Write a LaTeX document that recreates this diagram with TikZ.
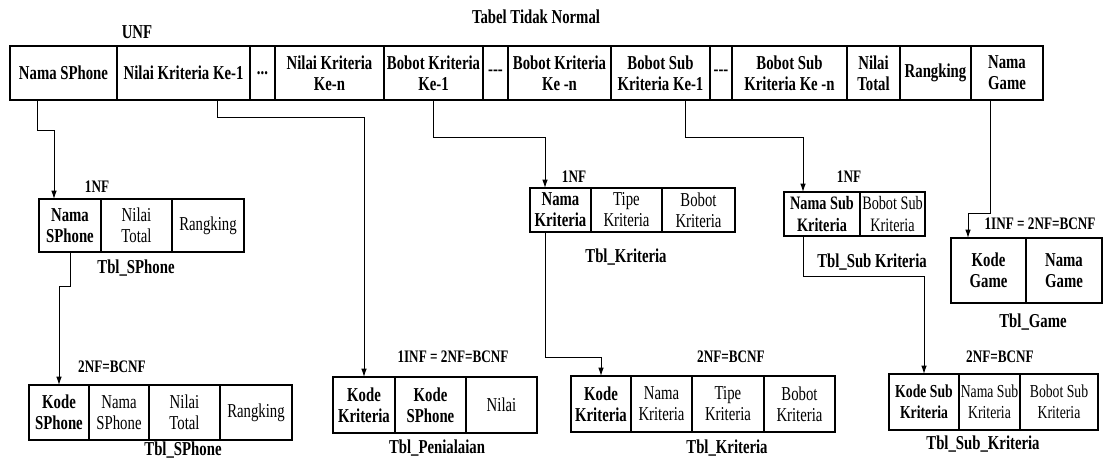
\documentclass[tikz,border=0pt]{standalone}
\usepackage{fontspec}
\setmainfont{Liberation Serif}[FakeStretch=0.75]
\usetikzlibrary{calc, arrows.meta}

\begin{document}
\begin{tikzpicture}[x=0.025cm, y=-0.025cm,
    cell/.style={draw, line width=0.8pt, outer sep=0pt, inner sep=0pt, align=center},
    link/.style={line width=0.7pt, -{Latex[length=6pt, width=4pt]}},
    nflabel/.style={font=\fontsize{12.5}{15}\selectfont\bfseries, inner sep=0pt},
    tbllabel/.style={font=\fontsize{14}{15}\selectfont\bfseries, inner sep=0pt}]
    % Define unit and cell font
    \def\pxu{0.025cm}
    \def\cellfont{\fontsize{14}{15}\selectfont}

    \useasboundingbox (0,0) rectangle (1108,458);

    % Title and unnormalised table
    \node[tbllabel] (title) at (536,17) {Tabel Tidak Normal};
    \node[tbllabel] (unf) at (137,32) {UNF};
    \foreach \nm/\xa/\xb/\txt in {hNama/10/117/{Nama SPhone}, hNilai1/117/250/{Nilai Kriteria Ke-1},
        hDotsA/250/275/{.{}.{}.}, hNilaiN/275/384/{Nilai Kriteria\\Ke-n}, hBobot1/384/483/{Bobot Kriteria\\Ke-1},
        hDotsB/483/508/{-{}-{}-}, hBobotN/508/611/{Bobot Kriteria\\Ke -n}, hSub1/611/710/{Bobot Sub\\Kriteria Ke-1},
        hDotsC/710/732/{-{}-{}-}, hSubN/732/847/{Bobot Sub\\Kriteria Ke -n}, hTotal/847/900/{Nilai\\Total},
        hRank/900/971/{Rangking}, hGame/971/1043/{Nama\\Game}}
        \node[cell, font=\cellfont\bfseries, minimum width={(\xb-\xa)*\pxu}, minimum height={54*\pxu}] (\nm) at ({(\xa+\xb)/2},73) {\txt};

    % 1NF Tbl_SPhone
    \node[nflabel] (nfA) at (97,187) {1NF};
    \foreach \nm/\xa/\xb/\fs/\txt in {phNama/39/101/\bfseries/{Nama\\SPhone}, phTotal/101/172/\mdseries/{Nilai\\Total},
        phRank/172/244/\mdseries/{Rangking}}
        \node[cell, font=\cellfont\fs, minimum width={(\xb-\xa)*\pxu}, minimum height={53*\pxu}] (\nm) at ({(\xa+\xb)/2},225.5) {\txt};
    \node[tbllabel] (tblA) at (136,268) {Tbl\_SPhone};

    % 2NF Tbl_SPhone
    \node[nflabel] (nfB) at (112,367) {2NF=BCNF};
    \foreach \nm/\xa/\xb/\fs/\txt in {phKode2/29/89/\bfseries/{Kode\\SPhone}, phNama2/89/149/\mdseries/{Nama\\SPhone},
        phTotal2/149/220/\mdseries/{Nilai\\Total}, phRank2/220/292/\mdseries/{Rangking}}
        \node[cell, font=\cellfont\fs, minimum width={(\xb-\xa)*\pxu}, minimum height={55*\pxu}] (\nm) at ({(\xa+\xb)/2},412.5) {\txt};
    \node[tbllabel] (tblB) at (183,450) {Tbl\_SPhone};

    % Tbl_Penialaian
    \node[nflabel] (nfC) at (453,357) {1INF = 2NF=BCNF};
    \foreach \nm/\xa/\xb/\fs/\txt in {pnKrit/333/395/\bfseries/{Kode\\Kriteria}, pnPhone/395/466/\bfseries/{Kode\\SPhone},
        pnNilai/466/537/\mdseries/{Nilai}}
        \node[cell, font=\cellfont\fs, minimum width={(\xb-\xa)*\pxu}, minimum height={56*\pxu}] (\nm) at ({(\xa+\xb)/2},405) {\txt};
    \node[tbllabel] (tblC) at (437,448) {Tbl\_Penialaian};

    % 1NF Tbl_Kriteria
    \node[nflabel] (nfD) at (574,177) {1NF};
    \foreach \nm/\xa/\xb/\fs/\txt in {krNama/530/591/\bfseries/{Nama\\Kriteria}, krTipe/591/662/\mdseries/{Tipe\\Kriteria},
        krBobot/662/735/\mdseries/{Bobot\\Kriteria}}
        \node[cell, font=\cellfont\fs, minimum width={(\xb-\xa)*\pxu}, minimum height={44*\pxu}] (\nm) at ({(\xa+\xb)/2},210) {\txt};
    \node[tbllabel] (tblD) at (626,257) {Tbl\_Kriteria};

    % 2NF Tbl_Kriteria
    \node[nflabel] (nfE) at (731,357) {2NF=BCNF};
    \foreach \nm/\xa/\xb/\fs/\txt in {krKode2/571/631/\bfseries/{Kode\\Kriteria}, krNama2/631/692/\mdseries/{Nama\\Kriteria},
        krTipe2/692/764/\mdseries/{Tipe\\Kriteria}, krBobot2/764/835/\mdseries/{Bobot\\Kriteria}}
        \node[cell, font=\cellfont\fs, minimum width={(\xb-\xa)*\pxu}, minimum height={56*\pxu}] (\nm) at ({(\xa+\xb)/2},404) {\txt};
    \node[tbllabel] (tblE) at (727,448) {Tbl\_Kriteria};

    % 1NF Tbl_Sub Kriteria
    \node[nflabel] (nfF) at (849,177) {1NF};
    \foreach \nm/\xa/\xb/\fs/\txt in {sbNama/784/860/\bfseries/{Nama Sub\\Kriteria}, sbBobot/860/925/\mdseries/{Bobot Sub\\Kriteria}}
        \node[cell, font=\fontsize{13.5}{15}\selectfont\fs, minimum width={(\xb-\xa)*\pxu}, minimum height={44*\pxu}] (\nm) at ({(\xa+\xb)/2},214) {\txt};
    \node[tbllabel] (tblF) at (872,262) {Tbl\_Sub Kriteria};

    % 2NF Tbl_Sub_Kriteria
    \node[nflabel] (nfG) at (1000,357) {2NF=BCNF};
    \foreach \nm/\xa/\xb/\fs/\txt in {sbKode2/889/959/\bfseries/{Kode Sub\\Kriteria}, sbNama2/959/1020/\mdseries/{Nama Sub\\Kriteria},
        sbBobot2/1020/1098/\mdseries/{Bobot Sub\\Kriteria}}
        \node[cell, font=\fontsize{13}{15}\selectfont\fs, minimum width={(\xb-\xa)*\pxu}, minimum height={56*\pxu}] (\nm) at ({(\xa+\xb)/2},402) {\txt};
    \node[tbllabel] (tblG) at (983,444) {Tbl\_Sub\_Kriteria};

    % Tbl_Game
    \node[nflabel] (nfH) at (1040,224) {1INF = 2NF=BCNF};
    \foreach \nm/\xa/\xb/\txt in {gmKode/951/1026/{Kode\\Game}, gmNama/1026/1102/{Nama\\Game}}
        \node[cell, font=\cellfont\bfseries, minimum width={(\xb-\xa)*\pxu}, minimum height={65*\pxu}] (\nm) at ({(\xa+\xb)/2},270.5) {\txt};
    \node[tbllabel] (tblH) at (1033,322) {Tbl\_Game};

    % Draw connectors
    \draw[link] ($(hNama.south)+(-26.5,0)$) -- ++(0,30) -| ($(phNama.north)+(-16,0)$);
    \draw[link] ($(hNilai1.south)+(33.5,0)$) -- ++(0,17) -| (pnKrit.north);
    \draw[link] (hBobot1.south) -- ++(0,37) -| ($(krNama.north)+(-15.5,0)$);
    \draw[link] ($(hSub1.south)+(24.5,0)$) -- ++(0,37) -| ($(sbNama.north)+(-19,0)$);
    \draw[link] ($(hGame.south)+(-17,0)$) -- ++(0,113) -| ($(gmKode.north)+(-20.5,0)$);
    \draw[link] (phNama.south) -- ++(0,34) -| (phKode2.north);
    \draw[link] ($(krNama.south)+(-15.5,0)$) -- ++(0,125) -| (krKode2.north);
    \draw[link] ($(sbNama.south)+(-19,0)$) -- ++(0,40) -| (sbKode2.north);

\end{tikzpicture}
\end{document}
